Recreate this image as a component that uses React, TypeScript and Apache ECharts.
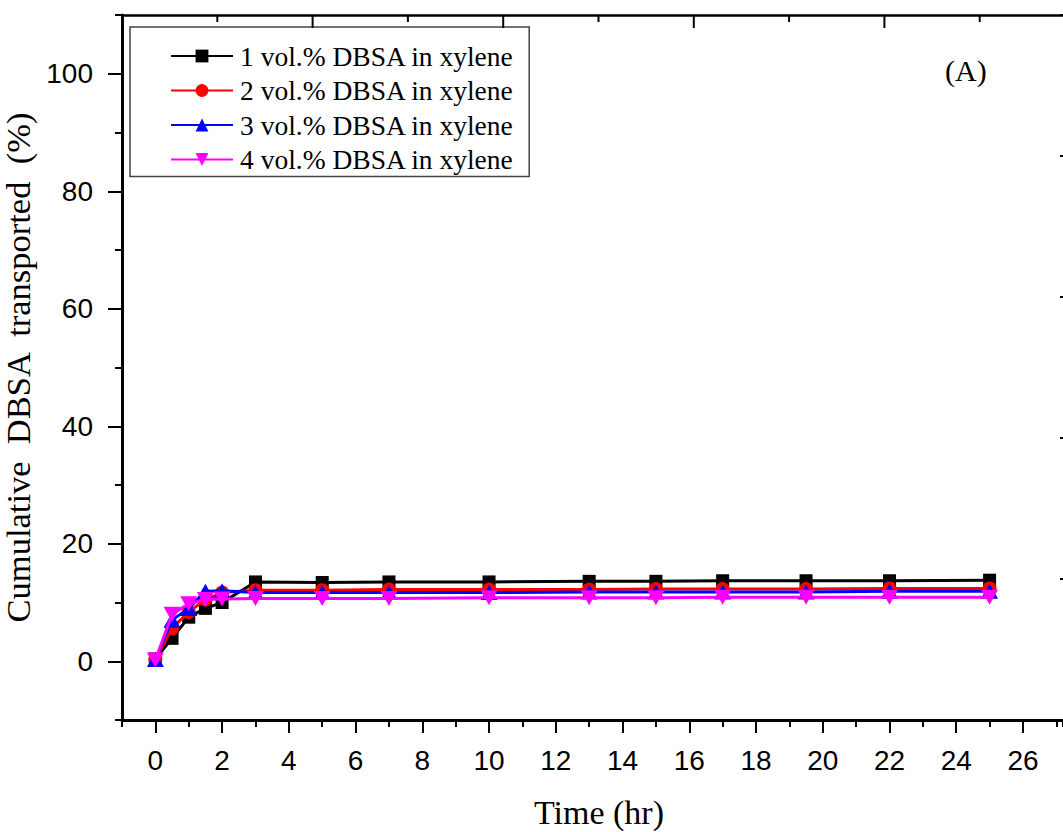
import React, { useEffect, useRef } from "react";
import * as echarts from "echarts";

const timeHr = [0, 0.5, 1, 1.5, 2, 3, 5, 7, 10, 13, 15, 17, 19.5, 22, 25];
const dbsa1 = [0.4, 3.9, 7.5, 9.0, 10.0, 13.5, 13.4, 13.5, 13.5, 13.6, 13.6, 13.7, 13.7, 13.7, 13.8];
const dbsa2 = [0.3, 5.6, 8.4, 10.5, 11.7, 12.1, 12.1, 12.2, 12.2, 12.2, 12.3, 12.3, 12.3, 12.4, 12.4];
const dbsa3 = [0.3, 7.0, 9.0, 11.9, 12.0, 11.7, 11.7, 11.7, 11.7, 11.8, 11.8, 11.8, 11.8, 11.9, 11.9];
const dbsa4 = [0.2, 8.0, 9.8, 10.5, 10.6, 10.7, 10.7, 10.7, 10.8, 10.8, 10.8, 10.9, 10.9, 10.9, 10.9];

const seriesNames = [
  "1 vol.% DBSA in xylene",
  "2 vol.% DBSA in xylene",
  "3 vol.% DBSA in xylene",
  "4 vol.% DBSA in xylene",
];
const seriesColors = ["#000000", "#ff0000", "#0000ff", "#ff00ff"];
const seriesSymbols = ["rect", "circle", "triangle", "path://M0,0 L10,0 L5,9 Z"];
const seriesSymbolSizes: any[] = [13, 14, [17, 15], [17, 15]];

const xMajorTicks = [0, 2, 4, 6, 8, 10, 12, 14, 16, 18, 20, 22, 24, 26];
const yMajorTicks = [0, 20, 40, 60, 80, 100];
// top frame ticks (index of half-steps along the top edge)
const topTickSteps = [1, 2, 3, 4, 5, 6, 7, 8, 9];

const xTitle = "Time (hr)";
const yTitle = "Cumulative  DBSA  transported  (%)";
const panelLabel = "(A)";

const SERIF = "'Liberation Serif', 'Times New Roman', serif";
const SANS = "'Liberation Sans', Arial, sans-serif";

const GRID_LEFT = 122;
const GRID_TOP = 15;
const TOP_STEP_PX = 95.3;

export default function App() {
  const ref = useRef<HTMLDivElement>(null);
  useEffect(() => {
    if (!ref.current) return;
    const chart = echarts.init(ref.current, null, { renderer: "svg" });
    const allData = [dbsa1, dbsa2, dbsa3, dbsa4];
    const series = allData.map((vals, i) => ({
      name: seriesNames[i],
      type: "line",
      xAxisIndex: 0,
      yAxisIndex: 0,
      data: timeHr.map((t, j) => [t, vals[j]]),
      symbol: seriesSymbols[i],
      symbolSize: seriesSymbolSizes[i],
      showAllSymbol: true,
      lineStyle: { color: seriesColors[i], width: 3 },
      itemStyle: { color: seriesColors[i], borderWidth: 0 },
      z: 2 + i,
    }));
    const tickLine = { color: "#000", width: 2 };
    const topTicks = topTickSteps.map((k) => {
      const x = GRID_LEFT + k * TOP_STEP_PX;
      const len = k % 2 === 0 ? 13 : 7;
      return {
        type: "line",
        z: 100,
        shape: { x1: x, y1: GRID_TOP, x2: x, y2: GRID_TOP + len },
        style: { stroke: "#000", lineWidth: 2 },
      };
    });
    chart.setOption({
      animation: false,
      backgroundColor: "#ffffff",
      grid: { left: GRID_LEFT, right: 0, top: GRID_TOP, bottom: 112, containLabel: false, outerBoundsMode: "none" },
      legend: {
        orient: "vertical",
        left: 130,
        top: 27,
        padding: [14, 15, 2, 40],
        itemWidth: 62,
        itemHeight: 16,
        itemGap: 4.5,
        borderColor: "#444",
        borderWidth: 1.5,
        backgroundColor: "#ffffff",
        data: seriesNames,
        textStyle: {
          fontFamily: SERIF,
          fontSize: 27.5,
          color: "#000",
          lineHeight: 30,
          padding: [0, 0, 0, 2],
        },
      },
      xAxis: [
        {
          type: "value",
          position: "bottom",
          min: -1,
          max: 27.2,
          interval: 1,
          axisLine: { show: true, onZero: false, lineStyle: { color: "#000", width: 3 } },
          axisTick: { show: true, inside: false, length: 7, lineStyle: tickLine },
          splitLine: { show: false },
          axisLabel: {
            fontFamily: SANS,
            fontSize: 28,
            color: "#000",
            margin: 26,
            formatter: (v: number) =>
              Number.isInteger(v) && v >= 0 && v % 2 === 0 && v <= 26 ? String(v) : "",
          },
          name: xTitle,
          nameLocation: "middle",
          nameGap: 75,
          nameTextStyle: {
            fontFamily: SERIF,
            fontSize: 34,
            color: "#000",
            padding: [0, 0, 0, 13],
          },
        },
        {
          type: "value",
          position: "bottom",
          min: -1,
          max: 27.2,
          axisLine: { show: false, onZero: false },
          axisTick: { show: true, inside: false, length: 13, lineStyle: tickLine, customValues: xMajorTicks },
          axisLabel: { show: false },
          splitLine: { show: false },
        },
        {
          type: "value",
          position: "top",
          min: -1,
          max: 27.2,
          axisLine: { show: true, onZero: false, lineStyle: { color: "#000", width: 2.5 } },
          axisTick: { show: false },
          axisLabel: { show: false },
          splitLine: { show: false },
        },
      ],
      yAxis: [
        {
          type: "value",
          position: "left",
          min: -10,
          max: 110,
          interval: 10,
          axisLine: { show: true, onZero: false, lineStyle: { color: "#000", width: 3 } },
          axisTick: { show: true, inside: false, length: 7, lineStyle: tickLine },
          splitLine: { show: false },
          axisLabel: {
            fontFamily: SANS,
            fontSize: 28,
            color: "#000",
            margin: 29,
            formatter: (v: number) =>
              Number.isInteger(v) && v >= 0 && v <= 100 && v % 20 === 0 ? String(v) : "",
          },
          name: yTitle,
          nameLocation: "middle",
          nameGap: 74,
          nameRotate: 90,
          nameTextStyle: { fontFamily: SERIF, fontSize: 34.5, color: "#000" },
        },
        {
          type: "value",
          position: "left",
          min: -10,
          max: 110,
          axisLine: { show: false, onZero: false },
          axisTick: { show: true, inside: false, length: 14, lineStyle: tickLine, customValues: yMajorTicks },
          axisLabel: { show: false },
          splitLine: { show: false },
        },
        {
          type: "value",
          position: "right",
          offset: 3,
          min: 0,
          max: 5,
          interval: 1,
          axisLine: { show: true, onZero: false, lineStyle: { color: "#000", width: 2 } },
          axisTick: { show: true, inside: true, length: 6, lineStyle: tickLine },
          axisLabel: { show: false },
          splitLine: { show: false },
        },
      ],
      graphic: [
        ...topTicks,
        {
          type: "text",
          left: 945,
          top: 55,
          style: {
            text: panelLabel,
            fontFamily: SERIF,
            fontSize: 30,
            fill: "#000",
          },
        },
      ],
      series,
    });
    return () => chart.dispose();
  }, []);
  return (
    <div
      ref={ref}
      style={{ position: "absolute", left: 0, top: 0, width: 1063, height: 832, background: "#fff" }}
    />
  );
}
